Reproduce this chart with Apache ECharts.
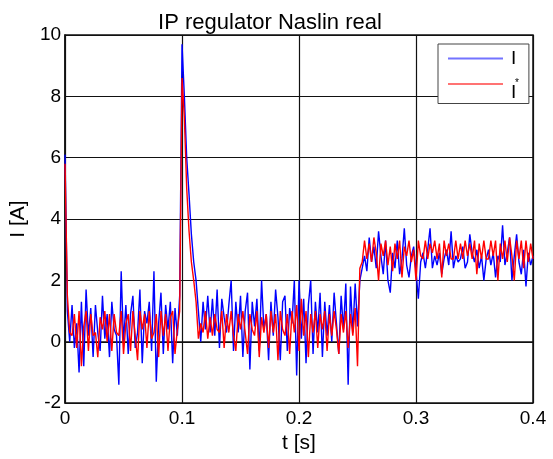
<!DOCTYPE html>
<html>
<head>
<meta charset="utf-8">
<script src="https://cdn.jsdelivr.net/npm/echarts@6/dist/echarts.min.js"></script>
<style>
  html, body { margin: 0; padding: 0; background: #fff; }
  #chart { width: 553px; height: 459px; }
</style>
</head>
<body>
<div id="chart"></div>
<script>
// Sampling of the recorded signals
const timeStep = 0.002; // s

// Measured current I [A]
const currentMeasured = [
  6.1, 1.0, 0.0, 1.2, -0.2, 0.6, -1.0, 1.3, -0.8, 1.7,
  0.2, 1.1, -0.5, 1.2, 0.3, -0.3, 1.5, 0.1, 0.9, -0.5,
  1.3, 0.4, 0.2, -1.4, 2.3, 0.0, 1.2, -0.4, 0.9, 1.5,
  -0.2, 0.3, 1.7, -0.7, 1.0, 0.6, 1.3, -0.3, 2.3, -1.3,
  0.6, 1.6, -0.4, 1.2, 0.4, 1.3, -0.7, 1.1, 0.2, 1.5,
  9.7, 8.0, 6.0, 4.8, 3.5, 2.6, 2.0, 1.0, 0.0, 1.3,
  0.4, 1.5, 0.3, 1.4, 0.2, 1.7, -0.2, 1.4, 0.8, 0.3,
  1.2, 2.0, -0.3, 1.3, 0.3, 1.5, -0.5, 1.0, 1.6, -0.9,
  1.3, 0.5, 1.4, -0.3, 2.0, 0.4, 0.9, -0.6, 1.3, 0.2,
  1.7, 0.8, -0.6, 1.3, 1.5, -0.3, 1.1, 0.6, 2.0, -1.1,
  2.0, 0.1, 1.4, -0.7, 1.2, 2.0, -0.4, 1.3, 0.3, 1.6,
  -0.5, 1.3, 0.2, 1.2, 0.0, 1.6, 0.6, -0.4, 1.5, 0.4,
  1.9, -1.4, 1.8, 0.3, 1.9, 0.5, 2.0, 2.4, 2.8, 2.3,
  3.4, 2.6, 3.1, 2.4, 3.6, 2.8, 2.2, 3.3, 2.0, 1.6,
  2.9, 2.4, 3.3, 2.2, 2.7, 3.7, 2.5, 2.1, 2.8, 3.1,
  2.3, 1.4, 2.6, 2.9, 2.4, 3.0, 3.7, 2.4, 2.8, 2.5,
  2.9, 2.2, 2.7, 3.0, 2.5, 3.6, 2.4, 2.8, 2.6, 2.7,
  3.1, 2.4, 2.6, 3.5, 2.9, 2.6, 3.0, 2.4, 2.8, 2.0,
  2.7, 3.0, 2.5, 2.9, 2.1, 2.8, 2.6, 3.8, 2.5, 2.9,
  3.4, 2.0, 2.8, 3.5, 2.6, 2.2, 3.0, 1.8, 2.9, 2.5,
  2.8
];

// Current reference I* [A]
const currentReference = [
  5.8, 1.5, 0.3, 0.2, 0.9, -0.2, 1.0, -0.8, 0.5, 1.0,
  -0.3, 0.9, 0.2, 0.3, -0.5, 0.8, 0.4, 1.0, 0.0, 0.9,
  -0.3, 0.9, 0.3, 0.2, 1.0, -0.4, 0.6, 0.9, -0.3, 1.0,
  0.2, -0.6, 1.0, 0.4, 0.9, -0.2, 1.0, 0.1, 0.3, 0.9,
  -0.5, 1.0, 0.2, 0.9, -0.3, 0.8, 1.0, -0.4, 0.4, 1.0,
  8.6, 7.3, 5.0, 3.6, 2.6, 2.0, 1.3, 0.1, 0.6, 0.3,
  1.0, 0.1, 0.8, 0.2, 0.9, 0.4, 0.3, 1.0, -0.2, 0.9,
  0.3, 1.0, 0.2, -0.3, 0.9, 0.4, 1.0, 0.3, -0.4, 0.9,
  0.4, 0.2, 1.0, -0.5, 0.8, 0.3, 0.9, -0.2, 1.0, 0.3,
  0.9, -0.6, 1.0, 0.4, 0.2, 0.9, -0.4, 1.0, 0.3, 1.2,
  -0.3, 1.4, 0.2, 1.0, -0.5, 0.9, 0.3, 1.0, -0.2, 0.9,
  0.4, 1.0, -0.3, 0.9, 0.2, 1.0, 0.4, -0.4, 0.9, 0.3,
  1.0, -0.2, 0.9, 0.2, 1.1, -0.8, 2.4, 2.6, 3.3, 2.7,
  3.2, 2.6, 3.4, 2.9, 2.0, 3.2, 2.8, 3.3, 2.5, 3.1,
  2.3, 3.2, 2.7, 3.3, 2.1, 3.1, 2.8, 3.3, 2.6, 3.0,
  2.0, 3.3, 2.8, 2.7, 3.3, 2.7, 3.2, 2.9, 3.3, 2.7,
  3.2, 2.1, 3.3, 2.8, 3.2, 2.7, 2.7, 3.3, 2.7, 3.2,
  2.7, 3.3, 2.8, 3.2, 2.7, 3.3, 2.2, 3.2, 2.7, 3.3,
  2.7, 2.7, 3.3, 2.8, 3.3, 2.0, 3.2, 2.7, 3.3, 2.6,
  3.4, 2.8, 2.0, 3.3, 2.7, 3.3, 2.4, 3.3, 2.6, 3.2,
  2.7
];

// Axis ticks
const timeTicks = [0, 0.1, 0.2, 0.3, 0.4];
const currentTicks = [-2, 0, 2, 4, 6, 8, 10];

const withTime = values => values.map((v, i) => [+(i * timeStep).toFixed(4), v]);

const FONT = '"Liberation Sans", Arial, sans-serif';

const chart = echarts.init(document.getElementById('chart'), null, { renderer: 'canvas' });

chart.setOption({
  backgroundColor: '#ffffff',
  animation: false,
  title: {
    text: 'IP regulator Naslin real',
    left: 265,
    top: 7,
    textAlign: 'center',
    textStyle: { fontFamily: FONT, fontSize: 22, fontWeight: 'normal', color: '#000' }
  },
  grid: {
    left: 62, right: 20, top: 35, bottom: 52,
    show: true, borderColor: '#111', borderWidth: 1.5, backgroundColor: '#fff'
  },
  legend: {
    left: 438, top: 44,
    orient: 'vertical',
    itemWidth: 55, itemHeight: 12, itemGap: 10,
    padding: [5, 10, 1, 10],
    borderColor: '#444', borderWidth: 1, backgroundColor: '#fff',
    icon: 'path://M0,5 L55,5 L55,7 L0,7 Z',
    data: [
      { name: 'I', itemStyle: { color: '#7373ff' } },
      { name: 'I*', itemStyle: { color: '#ff7373' } }
    ],
    // "I*" is set as I with a raised asterisk above it
    formatter: name => name === 'I*' ? '{s|*}\n{b|I}' : '{a|I}',
    textStyle: {
      fontFamily: FONT, fontSize: 19, color: '#000', padding: [0, 0, 0, 3],
      rich: {
        a: { fontFamily: FONT, fontSize: 19, color: '#000', lineHeight: 20 },
        b: { fontFamily: FONT, fontSize: 19, color: '#000', lineHeight: 2 },
        s: { fontFamily: FONT, fontSize: 10, color: '#000', lineHeight: 18, padding: [0, 0, 0, 4] }
      }
    }
  },
  xAxis: {
    type: 'value',
    min: timeTicks[0], max: timeTicks[timeTicks.length - 1], interval: 0.1,
    name: 't [s]', nameLocation: 'middle', nameGap: 29,
    nameTextStyle: { fontFamily: FONT, fontSize: 21, color: '#000' },
    axisLine: { show: true, lineStyle: { color: '#111', width: 1.5 } },
    axisTick: { show: false },
    axisLabel: {
      fontFamily: FONT, fontSize: 19, color: '#000', margin: 6,
      formatter: v => String(+v.toFixed(1))
    },
    splitLine: { show: true, lineStyle: { color: '#111', width: 1.2 } }
  },
  yAxis: {
    type: 'value',
    min: currentTicks[0], max: currentTicks[currentTicks.length - 1], interval: 2,
    name: 'I [A]', nameLocation: 'middle', nameGap: 35,
    nameTextStyle: { fontFamily: FONT, fontSize: 21, color: '#000' },
    axisLine: { show: true, lineStyle: { color: '#111', width: 1.5 } },
    axisTick: { show: false },
    axisLabel: { fontFamily: FONT, fontSize: 19, color: '#000', margin: 4 },
    splitLine: { show: true, lineStyle: { color: '#111', width: 1.2 } }
  },
  series: [
    {
      name: 'I', type: 'line', data: withTime(currentMeasured),
      showSymbol: false, symbol: 'none',
      lineStyle: { color: '#0000ff', width: 1.4 },
      itemStyle: { color: '#0000ff' }, z: 2
    },
    {
      name: 'I*', type: 'line', data: withTime(currentReference),
      showSymbol: false, symbol: 'none',
      lineStyle: { color: '#ff0000', width: 1.4 },
      itemStyle: { color: '#ff0000' }, z: 3
    }
  ]
});
</script>
</body>
</html>
